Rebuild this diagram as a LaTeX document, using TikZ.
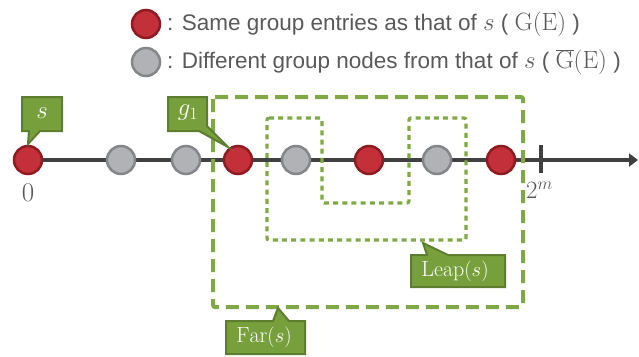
\documentclass[tikz,border=0pt]{standalone}
\usepackage{fontspec}
\usetikzlibrary{arrows.meta}
\newfontfamily\legendfont{Liberation Sans}

\definecolor{axisgray}{HTML}{404040}
\definecolor{redfill}{HTML}{C3303A}
\definecolor{redline}{HTML}{8E1B22}
\definecolor{grayfill}{HTML}{B1B2B6}
\definecolor{grayline}{HTML}{85868A}
\definecolor{boxgreen}{HTML}{80A844}
\definecolor{callfill}{HTML}{77A03D}
\definecolor{callline}{HTML}{5D7D2F}
\definecolor{textgray}{HTML}{595959}

% math in the legend is set slightly larger than the sans text around it
\newcommand{\legmath}[1]{{\fontsize{25}{26}\selectfont$#1$}}

\tikzset{
  axisline/.style={draw=axisgray, line width=4pt},
  rednode/.style={circle, minimum size=28pt, inner sep=0pt, fill=redfill, draw=redline, line width=2.5pt},
  graynode/.style={circle, minimum size=28pt, inner sep=0pt, fill=grayfill, draw=grayline, line width=2.5pt},
  farbox/.style={draw=boxgreen, line width=4pt, dash pattern=on 13pt off 7pt, rounded corners=2pt},
  leapbox/.style={draw=boxgreen, line width=3.2pt, dash pattern=on 5pt off 4.2pt, rounded corners=2pt},
  callout/.style={fill=callfill, draw=callline, line width=2pt, line join=miter},
  calltext/.style={text=white, font=\fontsize{22}{24}\selectfont, inner sep=0pt},
  calltextbig/.style={calltext, font=\fontsize{25}{26}\selectfont},
  legendtext/.style={text=textgray, anchor=west, inner sep=0pt, font=\legendfont\fontsize{22.5}{24}\selectfont},
  axislabel/.style={text=textgray, inner sep=0pt, font=\fontsize{27}{29}\selectfont},
}

\begin{document}
\begin{tikzpicture}[x=1pt, y=-1pt]
\useasboundingbox (0,0) rectangle (639,356);

% legend
\node[rednode] (keyred) at (146,24) {};
\node[graynode] (keygray) at (146,62) {};
\node[legendtext] (keyredtext) at (167,24) {: Same group entries as that of \legmath{s} ( \legmath{\mathrm{G(E)}} )};
\node[legendtext] (keygraytext) at (167,62) {: Different group nodes from that of \legmath{s} ( \legmath{\overline{\mathrm{G}}\mathrm{(E)}} )};

% number line
\coordinate (axisstart) at (14,160);
\coordinate (axisend) at (638,160);
\draw[axisline, -{Triangle[length=9pt, width=13pt]}] (axisstart) -- (axisend);
\coordinate (ticktop) at (541,145);
\coordinate (tickbottom) at (541,173);
\draw[axisline] (ticktop) -- (tickbottom);

% far region and leap region
\draw[farbox] (213,97) rectangle (523,307);
\draw[leapbox] (267,118) -- (322,118) -- (322,203) -- (409,203) -- (409,118)
  -- (466,118) -- (466,240) -- (267,240) -- cycle;

% entries on the line
\node[rednode] (s) at (28,160) {};
\node[graynode] (n1) at (121,160) {};
\node[graynode] (n2) at (186,160) {};
\node[rednode] (g1) at (238,160) {};
\node[graynode] (n3) at (296,160) {};
\node[rednode] (r2) at (369,160) {};
\node[graynode] (n4) at (437,160) {};
\node[rednode] (r3) at (501,160) {};

% axis labels
\node[axislabel] (zero) at (28,193) {0};
\node[axislabel, anchor=west] (top) at (526,190) {$2^m$};

% callouts
\draw[callout] (22,97) -- (62,97) -- (62,131) -- (40,131) -- (28,144) -- (29,131) -- (22,131) -- cycle;
\node[calltextbig] (slabel) at (42,113) {$s$};
\draw[callout] (168,97) -- (207,97) -- (207,126) -- (228,147) -- (199,131) -- (168,131) -- cycle;
\node[calltextbig] (glabel) at (188,113) {$g_1$};
\draw[callout] (411,255) -- (427,255) -- (423,243) -- (448,255) -- (505,255) -- (505,287) -- (411,287) -- cycle;
\node[calltext] (leaplabel) at (455,271) {$\mathrm{Leap}(s)$};
\draw[callout] (226,321) -- (273,321) -- (278,308) -- (289,321) -- (305,321) -- (305,354) -- (226,354) -- cycle;
\node[calltext] (farlabel) at (264,337) {$\mathrm{Far}(s)$};
\end{tikzpicture}
\end{document}
